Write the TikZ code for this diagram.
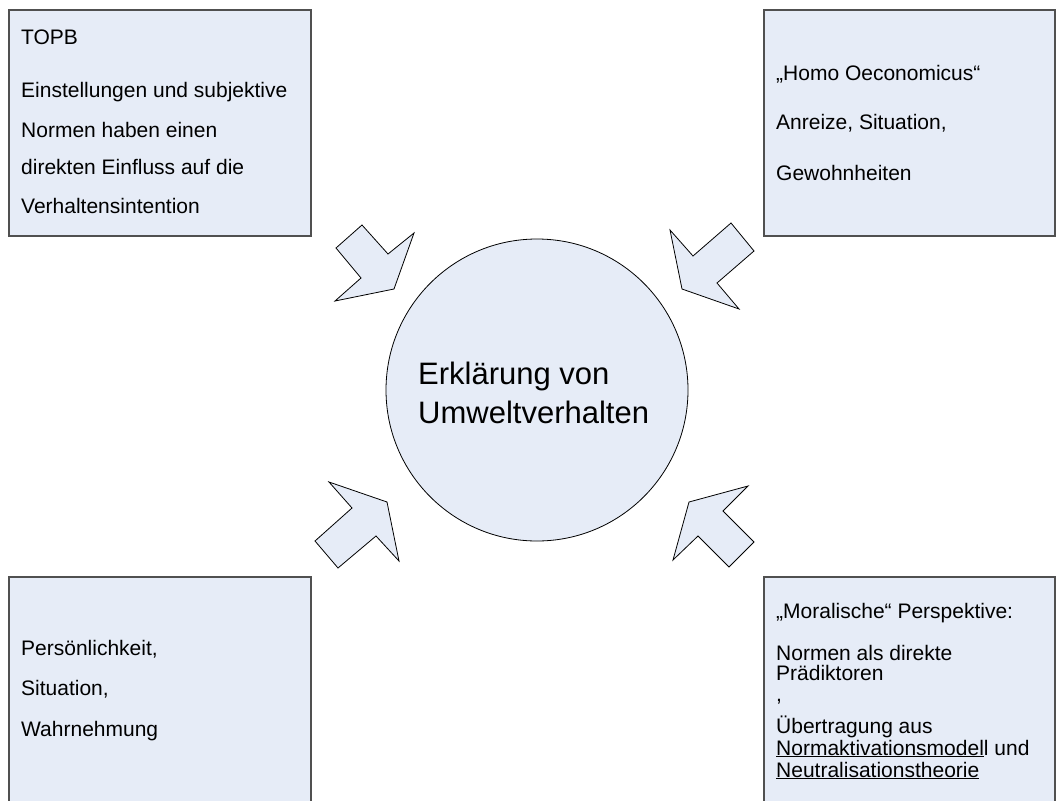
\documentclass[tikz,border=0pt]{standalone}
\usepackage{fontspec}
\setmainfont{Liberation Sans}
\definecolor{panel}{HTML}{E6ECF7}
\definecolor{frame}{HTML}{505050}
\begin{document}
\begin{tikzpicture}[x=1pt,y=-1pt,
  panelbox/.style={draw=frame, fill=panel, line width=1.2pt},
  pointer/.style={draw=black, fill=panel, line width=0.8pt, line join=miter},
  hub/.style={draw=black, fill=panel, line width=0.8pt},
  txt/.style={anchor=base west, inner sep=0pt, font=\fontsize{21}{25}\selectfont},
  bigtxt/.style={anchor=base west, inner sep=0pt, font=\fontsize{31}{37}\selectfont}]
\useasboundingbox (0,0) rectangle (1056,800);
\fill[white] (0,0) rectangle (1056,800);

% four panels
\draw[panelbox] (9,10) rectangle (311,236);
\draw[panelbox] (764,10) rectangle (1055,236);
\draw[panelbox] (9,577) rectangle (311,805);
\draw[panelbox] (764,577) rectangle (1055,805);

% central circle
\draw[hub] (537,390) circle[radius=151];
\node[bigtxt] (c1) at (418,384) {Erklärung von};
\node[bigtxt] (c2) at (418,423) {Umweltverhalten};

% block arrows pointing at the circle
\draw[pointer] (362,225) -- (388,254) -- (414,233) -- (394,289) -- (335,301) -- (361,278) -- (336,248) -- cycle;
\draw[pointer] (731,223) -- (754,251) -- (717,283) -- (739,309) -- (682,289) -- (670,230) -- (693,256) -- cycle;
\draw[pointer] (329,482) -- (387,502) -- (399,561) -- (376,536) -- (338,568) -- (315,541) -- (352,508) -- cycle;
\draw[pointer] (748,486) -- (723,511) -- (754,542) -- (729,567) -- (698,536) -- (673,560) -- (689,502) -- cycle;

% top left panel
\node[txt] (a1) at (21,45) {TOPB};
\node[txt] (a2) at (21,97) {Einstellungen und subjektive};
\node[txt] (a3) at (21,137) {Normen haben einen};
\node[txt] (a4) at (21,174) {direkten Einfluss auf die};
\node[txt] (a5) at (21,213) {Verhaltensintention};

% top right panel
\node[txt] (b1) at (776,81) {„Homo Oeconomicus“};
\node[txt] (b2) at (776,129) {Anreize, Situation,};
\node[txt] (b3) at (776,180) {Gewohnheiten};

% bottom left panel
\node[txt] (d1) at (21,655) {Persönlichkeit,};
\node[txt] (d2) at (21,695) {Situation,};
\node[txt] (d3) at (21,736) {Wahrnehmung};

% bottom right panel
\node[txt] (e1) at (776,618) {„Moralische“ Perspektive:};
\node[txt] (e2) at (776,660) {Normen als direkte};
\node[txt] (e3) at (776,680) {Prädiktoren};
\node[txt] (e4) at (776,701) {,};
\node[txt] (e5) at (776,733) {Übertragung aus};
\node[txt] (e6) at (776,755) {\underline{Normaktivationsmodel}l und};
\node[txt] (e7) at (776,777) {\underline{Neutralisationstheorie}};
\end{tikzpicture}
\end{document}
